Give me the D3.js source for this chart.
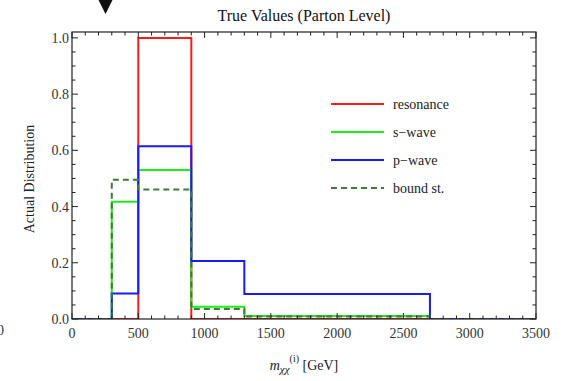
<!DOCTYPE html>
<html>
<head>
<meta charset="utf-8">
<script src="https://cdnjs.cloudflare.com/ajax/libs/d3/7.8.5/d3.min.js"></script>
<style>
  body { margin: 0; background: #fff; }
  text { font-family: "Liberation Serif", "DejaVu Serif", serif; }
</style>
</head>
<body>
<div id="corpo"></div>
<script>
// bin edges (GeV) and the value in each bin
var edges = [0, 300, 500, 900, 1300, 2700, 3500];
var resonance = [0, 0, 1.0, 0, 0, 0];
var sWave = [0, 0.417, 0.53, 0.044, 0.011, 0];
var pWave = [0, 0.091, 0.615, 0.206, 0.089, 0];
var boundSt = [0, 0.495, 0.461, 0.036, 0.009, 0];

var seriesNames = ["resonance", "s\u2212wave", "p\u2212wave", "bound st."];
var xTicks = [0, 500, 1000, 1500, 2000, 2500, 3000, 3500];
var yTicks = [0, 0.2, 0.4, 0.6, 0.8, 1.0];

var width = 563, height = 381;
var margin = {top: 32, right: 27, bottom: 62, left: 72};
var w = width - margin.left - margin.right,
    h = height - margin.top - margin.bottom;

var svg = d3.select("#corpo").append("svg")
    .attr("width", width)
    .attr("height", height);

var x = d3.scaleLinear().domain([0, 3500]).range([margin.left, margin.left + w]);
var y = d3.scaleLinear().domain([0, 1.021]).range([margin.top + h, margin.top]);

// stray marks in the picture
svg.append("path")
    .attr("d", "M98.5,0 L112.5,0 L105.5,14 Z")
    .attr("fill", "#111");
svg.append("text")
    .attr("x", 4).attr("y", 335)
    .attr("text-anchor", "end")
    .attr("font-size", 14)
    .attr("fill", "#333")
    .text("0");

// title
svg.append("text")
    .attr("x", margin.left + w / 2)
    .attr("y", 21)
    .attr("text-anchor", "middle")
    .attr("font-size", 16)
    .attr("fill", "#111")
    .text("True Values (Parton Level)");

// step lines
var step = d3.line()
    .x(function(d) { return x(d[0]); })
    .y(function(d) { return y(d[1]); })
    .curve(d3.curveStepAfter);

function toPoints(vals) {
    var pts = [[edges[0], 0]];
    vals.forEach(function(v, i) { pts.push([edges[i], v]); });
    pts.push([edges[edges.length - 1], vals[vals.length - 1]]);
    return pts;
}

var series = [
    {name: seriesNames[0], vals: resonance, color: "#ff1a1a", dash: null},
    {name: seriesNames[1], vals: sWave, color: "#1aef1a", dash: null},
    {name: seriesNames[2], vals: pWave, color: "#1a1aff", dash: null},
    {name: seriesNames[3], vals: boundSt, color: "#3a7d35", dash: "6,4"}
];

svg.append("clipPath").attr("id", "clip")
    .append("rect")
    .attr("x", margin.left).attr("y", margin.top - 2)
    .attr("width", w).attr("height", h + 2);

series.forEach(function(s) {
    svg.append("path")
        .datum(toPoints(s.vals))
        .attr("clip-path", "url(#clip)")
        .attr("fill", "none")
        .attr("stroke", s.color)
        .attr("stroke-width", 2)
        .attr("stroke-dasharray", s.dash)
        .attr("d", step);
});

// frame
svg.append("rect")
    .attr("x", margin.left).attr("y", margin.top)
    .attr("width", w).attr("height", h)
    .attr("fill", "none")
    .attr("stroke", "#222")
    .attr("stroke-width", 1.2);

// ticks, all pointing inward
var xMinor = d3.range(0, 3501, 100);
var yMinor = d3.range(0, 1.0001, 0.05);
var tickG = svg.append("g").attr("stroke", "#222").attr("stroke-width", 1);

xMinor.forEach(function(t) {
    var len = (t % 500 === 0) ? 6 : 3.5;
    tickG.append("line").attr("x1", x(t)).attr("x2", x(t))
        .attr("y1", margin.top + h).attr("y2", margin.top + h - len);
    tickG.append("line").attr("x1", x(t)).attr("x2", x(t))
        .attr("y1", margin.top).attr("y2", margin.top + len);
});
yMinor.forEach(function(t, i) {
    var len = (i % 4 === 0) ? 6 : 3.5;
    tickG.append("line").attr("x1", margin.left).attr("x2", margin.left + len)
        .attr("y1", y(t)).attr("y2", y(t));
    tickG.append("line").attr("x1", margin.left + w).attr("x2", margin.left + w - len)
        .attr("y1", y(t)).attr("y2", y(t));
});

// tick labels
svg.append("g").selectAll("text")
    .data(xTicks).enter().append("text")
    .attr("x", function(d) { return x(d); })
    .attr("y", margin.top + h + 19)
    .attr("text-anchor", "middle")
    .attr("font-size", 14)
    .attr("fill", "#333")
    .text(function(d) { return d; });

svg.append("g").selectAll("text")
    .data(yTicks).enter().append("text")
    .attr("x", margin.left - 3)
    .attr("y", function(d) { return y(d) + 5; })
    .attr("text-anchor", "end")
    .attr("font-size", 14)
    .attr("fill", "#333")
    .text(function(d) { return d.toFixed(1); });

// axis titles
svg.append("text")
    .attr("transform", "translate(34," + 179 + ") rotate(-90)")
    .attr("text-anchor", "middle")
    .attr("font-size", 14)
    .attr("fill", "#222")
    .text("Actual Distribution");

var xl = svg.append("text")
    .attr("x", margin.left + w / 2)
    .attr("y", 370)
    .attr("text-anchor", "middle")
    .attr("font-size", 14)
    .attr("fill", "#222");
xl.append("tspan").attr("font-style", "italic").text("m");
xl.append("tspan").attr("font-style", "italic").attr("font-size", 11)
    .attr("dy", 3).text("\u03c7\u03c7");
xl.append("tspan").attr("font-size", 10)
    .attr("dy", -11).text("(i)");
xl.append("tspan").attr("dy", 8).text(" [GeV]");

// legend
var legend = svg.append("g");
series.forEach(function(s, i) {
    var ly = 104 + i * 28;
    legend.append("line")
        .attr("x1", 331).attr("x2", 384)
        .attr("y1", ly).attr("y2", ly)
        .attr("stroke", s.color)
        .attr("stroke-width", 2)
        .attr("stroke-dasharray", s.dash);
    legend.append("text")
        .attr("x", 393).attr("y", ly + 4.5)
        .attr("font-size", 14)
        .attr("fill", "#222")
        .text(s.name);
});
</script>
</body>
</html>
